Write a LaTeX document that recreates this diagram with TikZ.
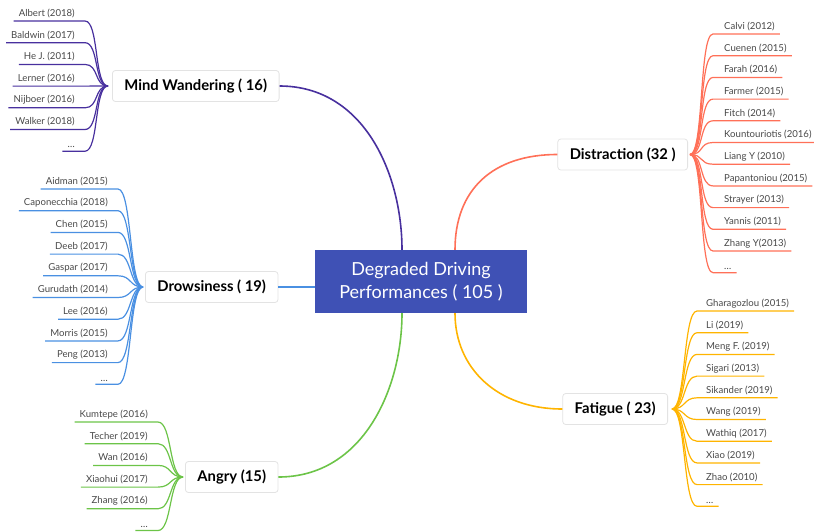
\documentclass[tikz,border=0pt]{standalone}
\usepackage{fontspec}
\setmainfont{Lato}
\usepackage{xcolor}
\usetikzlibrary{arrows,calc,shapes}

\definecolor{mwcol}{RGB}{72,48,158}
\definecolor{drcol}{RGB}{74,144,226}
\definecolor{ancol}{RGB}{108,196,72}
\definecolor{dicol}{RGB}{255,112,88}
\definecolor{facol}{RGB}{255,180,0}
\definecolor{rootcol}{RGB}{63,81,181}
\definecolor{leaftext}{RGB}{72,72,72}

\tikzset{
    topic/.style={draw=gray!22, line width=0.8pt, rounded corners=3pt, fill=white, font=\fontsize{14.8}{17}\selectfont\bfseries, minimum height=31pt, inner xsep=12pt},
    root/.style={fill=rootcol, text=white, font=\fontsize{18}{23}\selectfont, align=center, minimum width=212pt, minimum height=63pt},
    leaf/.style={font=\fontsize{9.6}{12}\selectfont, text=leaftext, inner xsep=5pt, inner ysep=3pt},
    branch/.style={line width=1.6pt},
    twig/.style={line width=1.2pt}
}

\begin{document}
\begin{tikzpicture}[x=1pt,y=-1pt]
        \useasboundingbox (0, 0) rectangle (814, 531);
        \node [root] (root) at (421, 281.5) {Degraded Driving\\ Performances ( 105 )};
        \node [topic, anchor=west] (mw) at (112, 86) {Mind Wandering ( 16)};
        \node [topic, anchor=west] (dr) at (145, 287) {Drowsiness ( 19)};
        \node [topic, anchor=west] (an) at (185, 477) {Angry (15)};
        \node [topic, anchor=east] (di) at (688, 154.5) {Distraction (32 )};
        \node [topic, anchor=east] (fa) at (668, 409) {Fatigue ( 23)};
        \coordinate (mw-hub) at ([xshift=-4pt]mw.west);
        \coordinate (dr-hub) at ([xshift=-2pt]dr.west);
        \coordinate (an-hub) at ([xshift=-2pt]an.west);
        \coordinate (di-hub) at ([xshift=2pt]di.east);
        \coordinate (fa-hub) at ([xshift=4pt]fa.east);
        \coordinate (root-mw) at ($(root.north)+(-19, 0)$);
        \coordinate (root-di) at ($(root.north)+(34, 0)$);
        \coordinate (root-an) at ($(root.south)+(-19, 0)$);
        \coordinate (root-fa) at ($(root.south)+(34, 0)$);
        \draw [branch, mwcol] (mw.east) .. controls +(85, 0) and +(0, -75) .. (root-mw);
        \draw [branch, dicol] (di.west) .. controls +(-65, 0) and +(0, -60) .. (root-di);
        \draw [branch, drcol] (dr.east) -- (dr.east -| root.west);
        \draw [branch, ancol] (an.east) .. controls +(85, 0) and +(0, 75) .. (root-an);
        \draw [branch, facol] (fa.west) .. controls +(-65, 0) and +(0, 55) .. (root-fa);
        \foreach \name [count=\i] in {{Albert (2018)}, {Baldwin (2017)}, {He J. (2011)}, {Lerner (2016)}, {Nijboer (2016)}, {Walker (2018)}, \ldots}{
            \node [leaf, anchor=south east] (mw\i) at (80, {21+(\i-1)*21.7}) {\name};
            \draw [twig, mwcol] (mw\i.south west) -- ([xshift=5pt]mw\i.south east) .. controls +(14, 0) and +(-14, 0) .. (mw-hub);
        }
        \foreach \name [count=\i] in {{Aidman (2015)}, {Caponecchia (2018)}, {Chen (2015)}, {Deeb (2017)}, {Gaspar (2017)}, {Gurudath (2014)}, {Lee (2016)}, {Morris (2015)}, {Peng (2013)}, \ldots}{
            \node [leaf, anchor=south east] (dr\i) at (113, {189+(\i-1)*21.7}) {\name};
            \draw [twig, drcol] (dr\i.south west) -- ([xshift=5pt]dr\i.south east) .. controls +(14, 0) and +(-14, 0) .. (dr-hub);
        }
        \foreach \name [count=\i] in {{Kumtepe (2016)}, {Techer (2019)}, {Wan (2016)}, {Xiaohui (2017)}, {Zhang (2016)}, \ldots}{
            \node [leaf, anchor=south east] (an\i) at (153, {422+(\i-1)*21.7}) {\name};
            \draw [twig, ancol] (an\i.south west) -- ([xshift=5pt]an\i.south east) .. controls +(14, 0) and +(-14, 0) .. (an-hub);
        }
        \foreach \name [count=\i] in {{Calvi (2012)}, {Cuenen (2015)}, {Farah (2016)}, {Farmer (2015)}, {Fitch (2014)}, {Kountouriotis (2016)}, {Liang Y (2010)}, {Papantoniou (2015)}, {Strayer (2013)}, {Yannis (2011)}, {Zhang Y(2013)}, \ldots}{
            \node [leaf, anchor=south west] (di\i) at (719, {34+(\i-1)*21.7}) {\name};
            \draw [twig, dicol] (di-hub) .. controls +(14, 0) and +(-14, 0) .. ([xshift=-6pt]di\i.south west) -- (di\i.south east);
        }
        \foreach \name [count=\i] in {{Gharagozlou (2015)}, {Li (2019)}, {Meng F. (2019)}, {Sigari (2013)}, {Sikander (2019)}, {Wang (2019)}, {Wathiq (2017)}, {Xiao (2019)}, {Zhao (2010)}, \ldots}{
            \node [leaf, anchor=south west] (fa\i) at (701, {311+(\i-1)*21.7}) {\name};
            \draw [twig, facol] (fa-hub) .. controls +(14, 0) and +(-14, 0) .. ([xshift=-4pt]fa\i.south west) -- (fa\i.south east);
        }
    \end{tikzpicture}
\end{document}
